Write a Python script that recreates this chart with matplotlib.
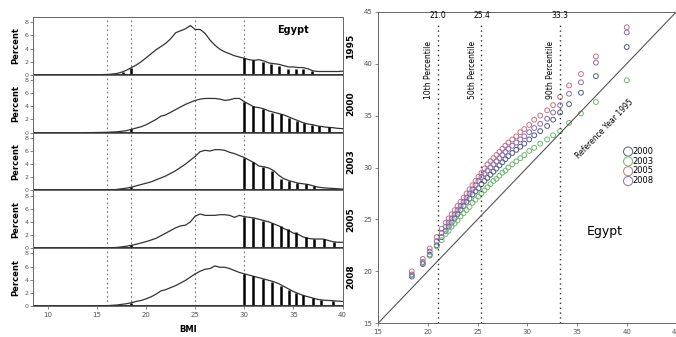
import numpy as np
import matplotlib
matplotlib.use("Agg")
import matplotlib.pyplot as plt

# ---- left: BMI distributions by survey year ----
years = ["1995", "2000", "2003", "2005", "2008"]
bmi = [14, 14.5, 15, 15.5, 16, 16.5, 17, 17.5, 18, 18.5, 19, 19.5, 20, 20.5,
       21, 21.5, 22, 22.5, 23, 23.5, 24, 24.5, 25, 25.5, 26, 26.5, 27, 27.5,
       28, 28.5, 29, 29.5, 30, 30.5, 31, 31.5, 32, 32.5, 33, 33.5, 34, 34.5,
       35, 35.5, 36, 36.5, 37, 37.5, 38, 38.5, 39, 39.5, 40]
pct_1995 = [0, 0, 0.02, 0.03, 0.05, 0.1, 0.2, 0.4, 0.7, 1.1, 1.5, 2.0, 2.6, 3.2,
            3.8, 4.3, 4.8, 5.5, 6.4, 6.7, 7.0, 7.5, 6.9, 6.9, 6.3, 5.3, 4.5, 3.9,
            3.5, 3.2, 2.9, 2.7, 2.5, 2.3, 2.2, 2.3, 2.1, 1.8, 1.7, 1.6, 1.4, 1.2,
            1.2, 1.1, 1.1, 0.9, 0.6, 0.5, 0.5, 0.5, 0.5, 0.5, 0.55]
pct_2000 = [0, 0, 0.02, 0.03, 0.05, 0.08, 0.12, 0.2, 0.3, 0.5, 0.7, 0.9, 1.2, 1.6,
            2.0, 2.5, 2.7, 3.1, 3.5, 3.9, 4.3, 4.6, 4.9, 5.1, 5.2, 5.2, 5.2, 5.1,
            4.9, 5.0, 5.2, 5.2, 4.7, 4.3, 3.9, 3.8, 3.6, 3.3, 3.1, 2.9, 2.7, 2.4,
            2.1, 1.8, 1.5, 1.3, 1.2, 1.0, 0.9, 0.8, 0.75, 0.65, 0.6]
pct_2003 = [0, 0, 0.02, 0.03, 0.05, 0.1, 0.15, 0.25, 0.35, 0.5, 0.7, 0.9, 1.1, 1.3,
            1.6, 1.9, 2.2, 2.6, 3.0, 3.5, 4.0, 4.6, 5.2, 5.9, 6.1, 6.0, 6.2, 6.2,
            6.1, 5.8, 5.6, 5.3, 5.0, 4.6, 4.2, 3.7, 3.6, 3.4, 3.0, 2.3, 1.8, 1.5,
            1.3, 1.1, 1.0, 0.9, 0.7, 0.5, 0.4, 0.35, 0.3, 0.25, 0.2]
pct_2005 = [0, 0, 0.02, 0.03, 0.05, 0.08, 0.12, 0.2, 0.3, 0.45, 0.6, 0.8, 1.0, 1.25,
            1.5, 1.9, 2.3, 2.7, 3.1, 3.4, 3.5, 4.0, 4.9, 5.2, 5.0, 5.0, 5.0, 5.1,
            5.1, 5.0, 4.7, 5.0, 4.8, 4.7, 4.6, 4.4, 4.2, 4.0, 3.7, 3.4, 3.0, 2.7,
            2.3, 2.1, 1.7, 1.5, 1.4, 1.4, 1.4, 1.2, 1.0, 0.9, 0.9]
pct_2008 = [0, 0, 0.02, 0.03, 0.05, 0.1, 0.15, 0.25, 0.35, 0.5, 0.7, 0.85, 1.1, 1.4,
            1.8, 2.3, 2.5, 2.8, 3.1, 3.5, 3.9, 4.4, 4.9, 5.3, 5.6, 5.7, 6.1, 5.9,
            5.9, 5.7, 5.4, 5.1, 4.9, 4.7, 4.5, 4.3, 4.1, 3.9, 3.7, 3.4, 3.0, 2.6,
            2.2, 1.9, 1.6, 1.4, 1.2, 1.0, 0.9, 0.85, 0.8, 0.75, 0.7]
curves = [pct_1995, pct_2000, pct_2003, pct_2005, pct_2008]

# spikes in the tails (under- and obese weight)
spike_x = [
    [17.6, 18.5, 30.0, 30.9, 31.85, 32.7, 33.55, 34.4, 35.25, 36.0, 36.85],
    [18.5, 30.0, 30.85, 31.85, 32.8, 33.7, 34.55, 35.35, 36.1, 36.85, 37.65, 38.65],
    [18.5, 30.0, 30.85, 31.85, 32.85, 33.7, 34.55, 35.4, 36.25, 37.1],
    [18.5, 30.0, 30.85, 31.85, 32.85, 33.7, 34.4, 35.25, 36.25, 37.1, 38.1, 39.15],
    [18.5, 30.0, 30.9, 31.85, 32.8, 33.7, 34.55, 35.25, 36.0, 36.95, 37.8, 39.0],
]
spike_h = [
    [0.4, 1.0, 2.5, 2.2, 2.0, 1.7, 1.4, 0.9, 0.9, 0.9, 0.6],
    [0.5, 4.7, 4.0, 3.6, 3.0, 2.8, 2.2, 1.8, 1.5, 1.2, 1.0, 0.8],
    [0.5, 5.0, 4.3, 3.5, 3.0, 1.8, 1.4, 1.1, 1.0, 0.6],
    [0.45, 4.8, 4.6, 4.2, 3.8, 3.4, 2.9, 2.4, 1.7, 1.4, 1.4, 0.9],
    [0.5, 4.9, 4.5, 4.1, 3.7, 3.1, 2.4, 2.0, 1.6, 1.2, 0.9, 0.7],
]
cutoffs = [16, 18.5, 25, 30]

# ---- right: quantile-quantile against 1995 ----
q_1995 = [18.4, 19.5, 20.2, 20.9, 21.4, 21.8, 22.1, 22.4, 22.7, 23.0, 23.3, 23.6,
          23.9, 24.2, 24.5, 24.8, 25.1, 25.4, 25.7, 26.0, 26.3, 26.6, 26.9, 27.2,
          27.5, 27.8, 28.1, 28.5, 28.9, 29.3, 29.7, 30.2, 30.7, 31.3, 32.0, 32.6,
          33.3, 34.2, 35.4, 36.9, 40.0]
q_2000 = [19.5, 20.7, 21.6, 22.5, 23.3, 23.9, 24.3, 24.7, 25.1, 25.5, 25.9, 26.3,
          26.7, 27.0, 27.4, 27.7, 28.0, 28.4, 28.7, 29.0, 29.3, 29.6, 29.9, 30.2,
          30.5, 30.8, 31.1, 31.4, 31.7, 32.0, 32.3, 32.7, 33.1, 33.5, 34.0, 34.6,
          35.3, 36.1, 37.2, 38.8, 41.6]
q_2003 = [19.6, 20.8, 21.5, 22.4, 23.0, 23.6, 23.9, 24.3, 24.6, 24.9, 25.3, 25.6,
          25.9, 26.2, 26.6, 26.9, 27.2, 27.5, 27.8, 28.1, 28.4, 28.7, 28.9, 29.2,
          29.5, 29.7, 30.0, 30.3, 30.6, 30.9, 31.2, 31.6, 31.9, 32.3, 32.7, 33.1,
          33.5, 34.3, 35.2, 36.3, 38.4]
q_2005 = [20.0, 21.2, 22.2, 23.3, 24.1, 24.7, 25.1, 25.5, 25.9, 26.3, 26.7, 27.1,
          27.5, 27.9, 28.3, 28.7, 29.1, 29.5, 29.9, 30.3, 30.6, 30.9, 31.2, 31.5,
          31.8, 32.1, 32.4, 32.7, 33.0, 33.4, 33.7, 34.1, 34.6, 35.0, 35.5, 36.0,
          36.8, 37.9, 39.0, 40.7, 43.5]
q_2008 = [19.7, 20.9, 21.9, 22.9, 23.7, 24.3, 24.7, 25.1, 25.5, 25.9, 26.3, 26.7,
          27.1, 27.5, 27.9, 28.3, 28.7, 29.1, 29.4, 29.7, 30.0, 30.3, 30.6, 30.9,
          31.2, 31.5, 31.8, 32.1, 32.4, 32.7, 33.0, 33.4, 33.8, 34.2, 34.7, 35.3,
          36.0, 37.1, 38.2, 40.1, 43.0]
qq_years = ["2000", "2003", "2005", "2008"]
qq_series = [q_2000, q_2003, q_2005, q_2008]
qq_colors = ["#4e5d7e", "#6cb86c", "#c9707e", "#8a6ab8"]
pctl_names = ["10th Percentile", "50th Percentile", "90th Percentile"]
pctl_values = [21.0, 25.4, 33.3]

fig = plt.figure(figsize=(6.76, 3.37), dpi=100)
W, H = 676.0, 337.0

# left stacked panels, 1995 on top
top, bottom = 17, 306
ph = (bottom - top) / 5.0
for i, yr in enumerate(years):
    ax = fig.add_axes([33 / W, 1 - (top + (i + 1) * ph) / H, 310 / W, ph / H])
    ax.set_xlim(8.47, 40.05)
    ax.set_ylim(0, 8.8)
    for c in cutoffs:
        ax.axvline(c, color="#777777", ls=(0, (1.5, 2.5)), lw=0.8)
    ax.plot(bmi, curves[i], color="#333333", lw=0.9)
    ax.vlines(spike_x[i], 0, spike_h[i], color="black", lw=1.8)
    ax.axhline(0, color="#333333", lw=1.4)
    ax.set_yticks([0, 2, 4, 6, 8])
    ax.tick_params(axis="y", labelsize=4.5, length=2, width=0.5, pad=1, colors="#555555")
    ax.set_ylabel("Percent", fontsize=6, fontweight="bold", labelpad=3)
    ax.text(1.01, 0.5, yr, transform=ax.transAxes, rotation=90, ha="left",
            va="center", fontsize=6.5, fontweight="bold")
    for s in ax.spines.values():
        s.set_color("#666666")
        s.set_linewidth(0.7)
    if i < 4:
        ax.set_xticks([])
    else:
        ax.set_xticks([10, 15, 20, 25, 30, 35, 40])
        ax.tick_params(axis="x", labelsize=5, length=2, width=0.5, pad=2, colors="#555555")
        ax.set_xlabel("BMI", fontsize=6, fontweight="bold", labelpad=5)
    if i == 0:
        ax.text(35.0, 6.8, "Egypt", ha="center", va="center", fontsize=7,
                fontweight="bold")

# right Q-Q panel
ax2 = fig.add_axes([378 / W, 1 - 323.3 / H, 298.5 / W, 311.6 / H])
ax2.set_xlim(15, 45)
ax2.set_ylim(15, 45)
ax2.plot([15, 45], [15, 45], color="#555555", lw=0.8)
for name, v in zip(pctl_names, pctl_values):
    ax2.plot([v, v], [15, 43.9], color="#333333", ls=(0, (1, 2.5)), lw=1.0)
    ax2.text(v, 44.2, f"{v:.1f}", ha="center", va="bottom", fontsize=5.5)
    ax2.text(v - 0.95, 39.4, name, rotation=90, ha="center", va="center", fontsize=5.5)
for yr, q, col in zip(qq_years, qq_series, qq_colors):
    ax2.scatter(q_1995, q, s=12, facecolors="none", edgecolors=col, linewidths=0.7,
                label=yr)
ax2.text(37.8, 33.7, "Reference Year 1995", rotation=46, ha="center", va="center",
         fontsize=5.5)
ax2.text(37.8, 23.8, "Egypt", ha="center", va="center", fontsize=9)
ax2.legend(loc="upper left", bbox_to_anchor=(0.81, 0.58), frameon=False,
           fontsize=6, handletextpad=0.0, labelspacing=0.1, markerscale=1.9,
           borderpad=0, handlelength=1.0)
ax2.set_xticks([15, 20, 25, 30, 35, 40, 45])
ax2.set_yticks([15, 20, 25, 30, 35, 40, 45])
ax2.tick_params(labelsize=5, length=2, width=0.5, pad=2, colors="#555555")
for s in ax2.spines.values():
    s.set_color("#666666")
    s.set_linewidth(0.7)

fig.savefig("out.png", dpi=100)
